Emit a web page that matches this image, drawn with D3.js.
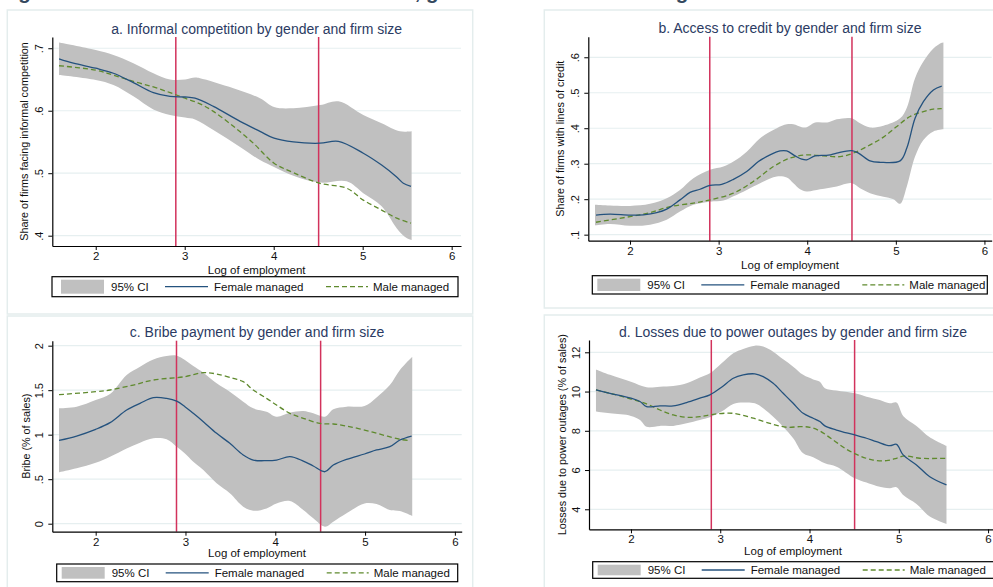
<!DOCTYPE html>
<html>
<head>
<meta charset="utf-8">
<script src="https://cdn.jsdelivr.net/npm/d3@7"></script>
<style>
  body { margin: 0; background: #fff; }
  svg { display: block; font-family: "Liberation Sans", Arial, sans-serif; }
</style>
</head>
<body>
<svg id="chart" width="993" height="587"></svg>
<script>
// ---- data (x = log of employment) ----
const refLines = [2.9, 4.505];
const xTicks = [2, 3, 4, 5, 6];

// a. informal competition
const aFemale = [[1.588,.683],[1.749,.676],[2.0,.668],[2.199,.660],[2.423,.645],[2.648,.629],[2.835,.623],[3.004,.622],[3.116,.620],[3.322,.607],[3.622,.583],[3.846,.567],[4.004,.556],[4.221,.550],[4.52,.548],[4.727,.551],[5.007,.532],[5.213,.513],[5.382,.494],[5.457,.484],[5.543,.479]];
const aMale = [[1.588,.672],[2.0,.665],[2.199,.657],[2.423,.647],[2.648,.638],[2.835,.629],[3.004,.620],[3.172,.611],[3.322,.599],[3.547,.575],[3.772,.548],[4.004,.516],[4.221,.501],[4.513,.484],[4.82,.476],[5.007,.457],[5.213,.441],[5.382,.428],[5.543,.420]];
const aUpper = [[1.588,.709],[2.0,.697],[2.199,.689],[2.423,.676],[2.648,.660],[2.835,.650],[3.004,.650],[3.116,.653],[3.172,.652],[3.547,.636],[3.846,.620],[4.004,.606],[4.221,.604],[4.52,.609],[4.727,.615],[5.007,.593],[5.213,.580],[5.419,.567],[5.55,.567]];
const aLower = [[1.588,.657],[2.0,.649],[2.199,.641],[2.423,.623],[2.648,.602],[2.835,.593],[3.004,.589],[3.116,.586],[3.322,.569],[3.622,.542],[3.846,.521],[4.004,.510],[4.221,.496],[4.52,.485],[4.82,.487],[5.007,.468],[5.213,.447],[5.382,.412],[5.476,.398],[5.55,.393]];
const aYTicks = [.4, .5, .6, .7];
const aYLabels = [".4", ".5", ".6", ".7"];

// b. access to credit
const bFemale = [[1.616,.155],[1.774,.158],[2.0,.155],[2.151,.156],[2.301,.162],[2.414,.172],[2.564,.198],[2.677,.219],[2.79,.228],[2.903,.239],[3.035,.242],[3.167,.256],[3.317,.278],[3.449,.306],[3.58,.325],[3.693,.336],[3.769,.336],[3.863,.322],[3.938,.313],[3.994,.311],[4.088,.322],[4.239,.324],[4.333,.330],[4.502,.337],[4.578,.330],[4.709,.308],[4.822,.304],[5.048,.308],[5.124,.344],[5.217,.428],[5.311,.475],[5.424,.508],[5.518,.519]];
const bMale = [[1.616,.135],[2.0,.151],[2.226,.162],[2.452,.179],[2.715,.189],[2.903,.198],[3.167,.217],[3.392,.250],[3.618,.292],[3.806,.316],[3.994,.325],[4.183,.322],[4.371,.320],[4.521,.330],[4.709,.353],[4.86,.375],[5.011,.405],[5.161,.433],[5.311,.447],[5.424,.454],[5.518,.455]];
const bUpper = [[1.605,.184],[1.774,.182],[2.0,.181],[2.226,.187],[2.414,.203],[2.564,.226],[2.715,.259],[2.903,.283],[3.054,.292],[3.167,.306],[3.317,.334],[3.468,.372],[3.656,.400],[3.769,.411],[3.844,.411],[3.938,.403],[3.994,.403],[4.088,.416],[4.239,.417],[4.333,.425],[4.502,.428],[4.596,.414],[4.709,.402],[4.86,.407],[5.048,.428],[5.124,.458],[5.217,.541],[5.311,.588],[5.424,.625],[5.518,.641],[5.537,.642]];
const bLower = [[1.605,.126],[1.774,.130],[2.0,.125],[2.226,.128],[2.414,.142],[2.564,.165],[2.715,.184],[2.903,.193],[3.054,.196],[3.167,.208],[3.317,.226],[3.468,.245],[3.656,.264],[3.769,.261],[3.844,.245],[3.919,.228],[3.994,.222],[4.145,.228],[4.333,.236],[4.502,.245],[4.596,.231],[4.709,.217],[4.86,.207],[4.973,.200],[5.048,.187],[5.124,.236],[5.217,.320],[5.311,.367],[5.424,.391],[5.537,.397]];
const bYTicks = [.1, .2, .3, .4, .5, .6];
const bYLabels = [".1", ".2", ".3", ".4", ".5", ".6"];

// c. bribe payment
const cFemale = [[1.592,.936],[1.788,.985],[2.0,1.06],[2.16,1.135],[2.345,1.277],[2.494,1.352],[2.642,1.416],[2.79,1.408],[2.902,1.378],[2.994,1.315],[3.087,1.24],[3.199,1.146],[3.347,1.015],[3.494,.903],[3.643,.772],[3.755,.715],[3.903,.708],[4.014,.715],[4.163,.753],[4.312,.704],[4.423,.648],[4.553,.584],[4.646,.659],[4.794,.723],[4.994,.783],[5.128,.828],[5.276,.865],[5.388,.94],[5.518,.985]];
const cMale = [[1.592,1.449],[2.0,1.483],[2.16,1.502],[2.419,1.558],[2.642,1.614],[2.994,1.652],[3.199,1.697],[3.347,1.682],[3.532,1.633],[3.643,1.596],[3.755,1.502],[3.903,1.408],[4.014,1.333],[4.163,1.24],[4.312,1.184],[4.497,1.127],[4.646,1.12],[4.794,1.097],[4.994,1.052],[5.202,.996],[5.388,.948],[5.499,.933]];
const cUpper = [[1.592,1.296],[1.788,1.315],[2.0,1.39],[2.16,1.457],[2.345,1.67],[2.494,1.764],[2.642,1.846],[2.79,1.884],[2.902,1.888],[2.994,1.839],[3.087,1.772],[3.199,1.697],[3.347,1.577],[3.494,1.483],[3.643,1.371],[3.755,1.296],[3.903,1.258],[4.014,1.202],[4.163,1.247],[4.312,1.266],[4.423,1.24],[4.553,1.202],[4.646,1.285],[4.794,1.315],[4.994,1.322],[5.128,1.419],[5.276,1.558],[5.388,1.727],[5.525,1.876]];
const cLower = [[1.592,.577],[1.788,.622],[2.0,.685],[2.16,.753],[2.345,.846],[2.494,.91],[2.642,.959],[2.79,.948],[2.902,.865],[2.994,.79],[3.087,.697],[3.199,.603],[3.347,.453],[3.494,.341],[3.643,.191],[3.755,.146],[3.903,.172],[4.014,.228],[4.163,.255],[4.312,.154],[4.423,.06],[4.553,-.034],[4.646,.022],[4.794,.116],[4.994,.228],[5.128,.22],[5.276,.154],[5.388,.142],[5.525,.086]];
const cYTicks = [0, .5, 1, 1.5, 2];
const cYLabels = ["0", ".5", "1", "1.5", "2"];

// d. losses due to power outages
const dFemale = [[1.608,10.08],[1.765,9.91],[2.0,9.66],[2.101,9.49],[2.175,9.23],[2.325,9.27],[2.474,9.27],[2.623,9.44],[2.772,9.66],[2.884,9.83],[3.015,10.22],[3.146,10.68],[3.257,10.85],[3.388,10.9],[3.481,10.76],[3.593,10.42],[3.705,9.91],[3.817,9.40],[3.929,8.89],[4.041,8.64],[4.116,8.47],[4.172,8.25],[4.302,8.04],[4.507,7.79],[4.638,7.62],[4.75,7.45],[4.899,7.24],[4.974,7.31],[5.049,6.77],[5.198,6.26],[5.347,5.66],[5.534,5.24]];
const dMale = [[1.608,10.08],[1.765,9.91],[2.0,9.62],[2.175,9.37],[2.325,9.06],[2.474,8.81],[2.623,8.69],[2.772,8.72],[2.922,8.84],[3.146,8.89],[3.369,8.64],[3.593,8.33],[3.743,8.18],[3.892,8.21],[4.004,8.18],[4.116,7.99],[4.265,7.53],[4.414,7.06],[4.563,6.72],[4.713,6.51],[4.862,6.48],[4.974,6.6],[5.067,6.72],[5.235,6.6],[5.534,6.6]];
const dUpper = [[1.608,11.13],[1.765,10.85],[2.0,10.5],[2.175,10.22],[2.325,10.25],[2.474,10.28],[2.623,10.42],[2.772,10.71],[2.884,10.93],[3.015,11.44],[3.146,11.95],[3.257,12.17],[3.388,12.34],[3.481,12.29],[3.593,12.03],[3.705,11.64],[3.817,11.27],[3.929,10.85],[4.041,10.62],[4.116,10.5],[4.172,10.17],[4.302,10.05],[4.507,9.91],[4.638,9.74],[4.787,9.57],[4.899,9.4],[4.974,9.44],[5.049,8.76],[5.198,8.25],[5.347,7.67],[5.534,7.23]];
const dLower = [[1.608,8.98],[1.765,8.89],[2.0,8.76],[2.101,8.55],[2.175,8.21],[2.325,8.25],[2.474,8.25],[2.623,8.38],[2.772,8.55],[2.884,8.69],[3.015,8.98],[3.146,9.37],[3.257,9.44],[3.388,9.40],[3.481,9.15],[3.593,8.72],[3.705,8.21],[3.817,7.62],[3.929,6.85],[4.041,6.65],[4.172,6.34],[4.302,6.17],[4.507,5.58],[4.638,5.36],[4.75,5.19],[4.899,5.07],[4.974,5.12],[5.049,4.73],[5.198,4.27],[5.347,3.63],[5.534,3.25]];
const dYTicks = [4, 6, 8, 10, 12];
const dYLabels = ["4", "6", "8", "10", "12"];

const legendLabels = ["95% CI", "Female managed", "Male managed"];

// ---- layout ----
const panels = [
  { title: "a. Informal competition by gender and firm size", ytitle: "Share of firms facing informal competition",
    female: aFemale, male: aMale, upper: aUpper, lower: aLower, yTicks: aYTicks, yLabels: aYLabels,
    frame: [7.3, 10, 465.4, 304], xDom: [1.512, 6.105], xRange: [52.3, 461], yDom: [.3835, .718], yRange: [246, 37],
    titleY: 33.5, yTitleX: 27.5, xTitleY: 273.5, legend: { x: 52, y: 276.7, w: 406, h: 20, dx: 4 } },
  { title: "b. Access to credit by gender and firm size", ytitle: "Share of firms with lines of credit",
    female: bFemale, male: bMale, upper: bUpper, lower: bLower, yTicks: bYTicks, yLabels: bYLabels,
    frame: [544.3, 10, 460, 298], xDom: [1.529, 6.082], xRange: [588.3, 991.7], yDom: [.083, .658], yRange: [240.7, 36.7],
    titleY: 32.5, yTitleX: 564, xTitleY: 268.5, legend: { x: 592.3, y: 275.7, w: 395, h: 18.3, dx: 0 } },
  { title: "c. Bribe payment by gender and firm size", ytitle: "Bribe (% of sales)",
    female: cFemale, male: cMale, upper: cUpper, lower: cLower, yTicks: cYTicks, yLabels: cYLabels,
    frame: [7.3, 316, 465.4, 290], xDom: [1.517, 6.076], xRange: [52.3, 461.7], yDom: [-.09, 2.056], yRange: [531.7, 340.7],
    titleY: 337, yTitleX: 29.5, xTitleY: 556.5, legend: { x: 56.7, y: 564, w: 401, h: 17.7, dx: 0 } },
  { title: "d. Losses due to power outages by gender and firm size", ytitle: "Losses due to power outages (% of sales)",
    female: dFemale, male: dMale, upper: dUpper, lower: dLower, yTicks: dYTicks, yLabels: dYLabels,
    frame: [544.3, 315, 460, 290], xDom: [1.53, 6.1], xRange: [589, 997], yDom: [2.98, 12.627], yRange: [529.3, 340],
    titleY: 337, yTitleX: 566, xTitleY: 555, legend: { x: 592.7, y: 561.7, w: 405, h: 16.6, dx: 0 } }
];

const colors = { band: "#c0c0c0", female: "#24527e", male: "#5f8a2e", ref: "#d2325c",
                 grid: "#e6eff0", title: "#2b3b63", frame: "#e4eded" };

const svg = d3.select("#chart");

// main figure title, cut off at the top edge as in the source
svg.append("text")
  .attr("x", 0).attr("y", -1)
  .attr("font-size", "20.5px").attr("font-weight", "bold")
  .attr("fill", "#34495e")
  .text("Figure 2: Business environment outcomes, gender of the firm's manager and firm size");

function drawPanel(p) {
  const g = svg.append("g");
  const x = d3.scaleLinear().domain(p.xDom).range(p.xRange);
  const y = d3.scaleLinear().domain(p.yDom).range(p.yRange);

  g.append("rect")
    .attr("x", p.frame[0]).attr("y", p.frame[1])
    .attr("width", p.frame[2]).attr("height", p.frame[3])
    .attr("fill", "#fff").attr("stroke", colors.frame).attr("stroke-width", 1.5);

  // gridlines
  g.selectAll("line.grid").data(p.yTicks).enter().append("line")
    .attr("class", "grid")
    .attr("x1", p.xRange[0]).attr("x2", p.xRange[1])
    .attr("y1", d => y(d)).attr("y2", d => y(d))
    .attr("stroke", colors.grid).attr("stroke-width", 1.2);

  const line = d3.line().x(d => x(d[0])).y(d => y(d[1])).curve(d3.curveCatmullRom.alpha(0.5));

  // confidence band
  const bandPath = line(p.upper) + line(p.lower.slice().reverse()).replace(/^M/, "L") + "Z";
  g.append("path").attr("d", bandPath).attr("fill", colors.band).attr("stroke", "none");

  // reference lines
  g.selectAll("line.ref").data(refLines).enter().append("line")
    .attr("class", "ref")
    .attr("x1", d => x(d)).attr("x2", d => x(d))
    .attr("y1", p.yRange[1]).attr("y2", p.yRange[0])
    .attr("stroke", colors.ref).attr("stroke-width", 1.5);

  g.append("path").attr("d", line(p.male)).attr("fill", "none")
    .attr("stroke", colors.male).attr("stroke-width", 1.3).attr("stroke-dasharray", "5,3");
  g.append("path").attr("d", line(p.female)).attr("fill", "none")
    .attr("stroke", colors.female).attr("stroke-width", 1.3);

  // axes
  const xAxis = g.append("g")
    .attr("transform", `translate(0,${p.yRange[0]})`)
    .call(d3.axisBottom(x).tickValues(xTicks).tickFormat(d3.format("d")).tickSize(4).tickSizeOuter(0).tickPadding(2));
  xAxis.selectAll("text").attr("font-size", "11.5px").attr("fill", "#111").attr("font-family", null);

  const yAxis = g.append("g")
    .attr("transform", `translate(${p.xRange[0]},0)`)
    .call(d3.axisLeft(y).tickValues(p.yTicks).tickFormat((d, i) => p.yLabels[i]).tickSize(4).tickSizeOuter(0));
  yAxis.selectAll("text")
    .attr("transform", "rotate(-90)")
    .attr("x", 0).attr("y", -9).attr("dy", 0)
    .attr("text-anchor", "middle")
    .attr("font-size", "11px").attr("fill", "#111").attr("font-family", null);

  [xAxis, yAxis].forEach(a => {
    a.select(".domain").attr("stroke", "#000").attr("stroke-width", 1.2);
    a.selectAll(".tick line").attr("stroke", "#000");
  });

  // titles
  const cx = (p.xRange[0] + p.xRange[1]) / 2;
  const cy = (p.yRange[0] + p.yRange[1]) / 2;
  g.append("text").attr("x", cx).attr("y", p.titleY).attr("text-anchor", "middle")
    .attr("font-size", "14px").attr("fill", colors.title).text(p.title);
  g.append("text").attr("x", cx).attr("y", p.xTitleY).attr("text-anchor", "middle")
    .attr("font-size", "11.5px").attr("fill", "#111").text("Log of employment");
  g.append("text").attr("transform", `translate(${p.yTitleX},${cy}) rotate(-90)`)
    .attr("text-anchor", "middle").attr("font-size", "10.8px").attr("fill", "#111").text(p.ytitle);

  // legend
  const L = p.legend;
  const lg = g.append("g").attr("transform", `translate(${L.x},${L.y})`);
  lg.append("rect").attr("width", L.w).attr("height", L.h)
    .attr("fill", "#fff").attr("stroke", "#000").attr("stroke-width", 1.2);
  const mid = L.h / 2;
  lg.append("rect").attr("x", L.dx + 5).attr("y", 3).attr("width", 43).attr("height", L.h - 6)
    .attr("fill", colors.band);
  lg.append("line").attr("x1", L.dx + 109).attr("x2", L.dx + 152).attr("y1", mid).attr("y2", mid)
    .attr("stroke", colors.female).attr("stroke-width", 1.3);
  lg.append("line").attr("x1", L.dx + 270).attr("x2", L.dx + 312).attr("y1", mid).attr("y2", mid)
    .attr("stroke", colors.male).attr("stroke-width", 1.3).attr("stroke-dasharray", "5,3");
  const textX = [55, 158, 317];
  lg.selectAll("text.leg").data(legendLabels).enter().append("text")
    .attr("class", "leg")
    .attr("x", (d, i) => L.dx + textX[i]).attr("y", mid + 4)
    .attr("font-size", "11.5px").attr("fill", "#111").text(d => d);
}

panels.forEach(drawPanel);
</script>
</body>
</html>
